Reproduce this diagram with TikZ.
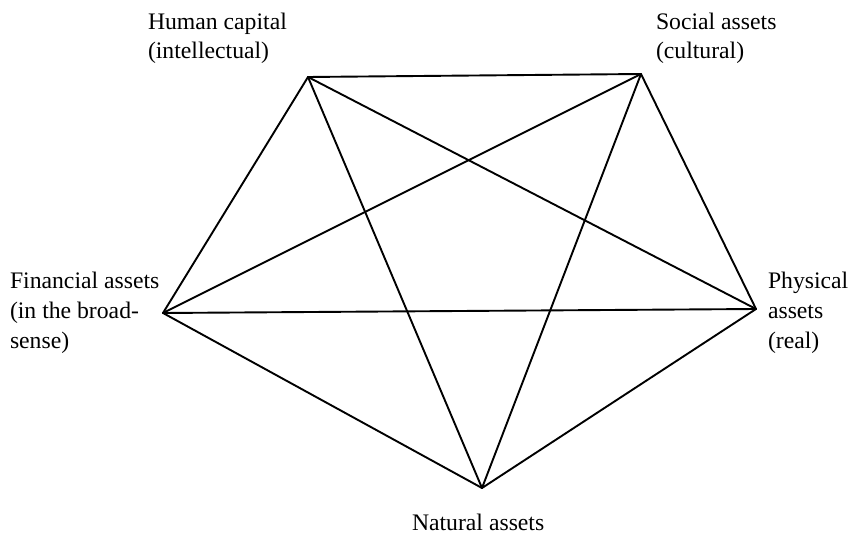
\documentclass[tikz,border=0pt]{standalone}
\usepackage{fontspec}
\setmainfont{Liberation Serif}
\begin{document}
\begin{tikzpicture}[x=1pt,y=-1pt,
  edge/.style={line width=1.9pt, line cap=round, line join=round},
  lbl/.style={inner sep=0pt, outer sep=0pt, anchor=base west, align=left,
    font=\fontsize{23.7pt}{29.5pt}\selectfont}]
  \useasboundingbox (0,0) rectangle (853,534);
  % pentagon corners
  \coordinate (hc) at (308,77);
  \coordinate (sa) at (641,74);
  \coordinate (fa) at (163,313);
  \coordinate (pa) at (756,309);
  \coordinate (na) at (482,488);
  % every pair of corners is joined
  \foreach \a/\b in {hc/sa, hc/fa, hc/pa, hc/na, sa/fa, sa/pa, sa/na, fa/pa, fa/na, pa/na}
    \draw[edge] (\a) -- (\b);
  % labels (anchored at the baseline of their last line)
  \node[lbl] (hcl) at (148,59) {Human capital\\(intellectual)};
  \node[lbl] (sal) at (656,59) {Social assets\\(cultural)};
  \node[lbl] (fal) at (10,348) {Financial assets\\(in the broad-\\sense)};
  \node[lbl] (pal) at (768,348) {Physical\\assets\\(real)};
  \node[lbl] (nal) at (412,530) {Natural assets};
\end{tikzpicture}
\end{document}
